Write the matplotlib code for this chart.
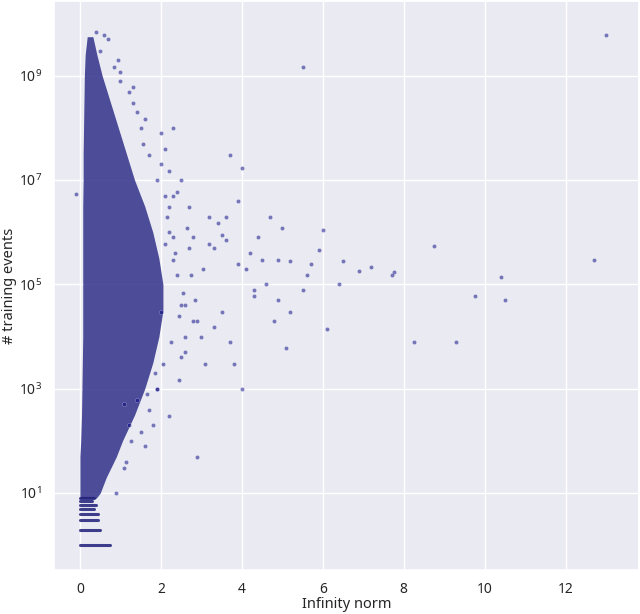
import matplotlib
matplotlib.use("Agg")
import matplotlib.pyplot as plt
import seaborn as sns

sns.set_theme(style="darkgrid")
plt.rcParams['font.family'] = ['Noto Sans', 'DejaVu Sans']

# Dense core envelope: log10(# events) vs. min / max infinity norm
core_logy = [0.9, 1.0, 1.3, 1.7, 2.0, 2.5, 3.0, 3.5, 4.0, 4.5, 5.0, 5.5, 6.0, 6.5, 7.0, 7.5, 8.0, 8.5, 9.0, 9.4, 9.75]
core_xmin = [0.0, 0.0, 0.0, 0.0, 0.02, 0.04, 0.05, 0.06, 0.07, 0.07, 0.07, 0.07, 0.07, 0.07, 0.08, 0.08, 0.09, 0.1, 0.11, 0.13, 0.18]
core_xmax = [0.4, 0.5, 0.65, 0.9, 1.05, 1.35, 1.6, 1.8, 1.95, 2.05, 2.05, 1.95, 1.8, 1.6, 1.35, 1.15, 0.95, 0.75, 0.55, 0.42, 0.32]

# Discrete low-count rows (count, max norm)
row_counts = [1, 2, 3, 4, 5, 6, 7, 8]
row_xmax = [0.75, 0.5, 0.45, 0.45, 0.35, 0.4, 0.3, 0.35]

# Scattered points
pts_x = [5.5, 13.0, 12.7, 10.4, 10.5, 9.75, 9.3, 8.25, 8.75, 7.75, 7.7, 7.2, 6.9, 6.5, 6.4, 6.0, 5.9, 5.7,
         6.1, 5.6, 5.5, 5.2, 5.0, 4.9, 4.5, 4.3, 4.0, 3.9, 3.7, 3.6, 3.5, 3.2, 4.0, 3.8, 3.1, 2.9, -0.1,
         5.2, 4.6, 4.2, 3.0, 2.5, 2.2, 2.0, 1.6, 1.3, 0.95, 0.7, 5.1, 4.8, 3.3, 3.4, 2.7, 2.8, 2.6, 3.05,
         2.4, 2.3, 2.1, 3.6, 3.9, 4.4, 4.7, 2.9, 2.6, 3.2, 2.45, 2.2, 1.6, 1.8, 1.1, 0.9, 0.5, 1.0, 1.3,
         1.5, 2.0, 2.3, 2.2, 2.7, 3.5, 4.1, 4.3, 4.9, 3.7, 3.3, 2.8, 2.5, 1.9, 0.4, 0.6, 1.1, 1.2,
         2.2, 2.3, 2.4, 2.5, 2.6, 2.15, 2.35, 2.55, 2.75, 2.1, 2.45, 2.65, 2.85, 2.25, 2.05, 1.9, 1.7,
         1.5, 1.4, 1.25, 1.15, 1.7, 1.55, 1.9, 2.1, 2.3, 2.0, 1.85, 1.65, 1.4, 1.2, 1.0, 0.85]
pts_y = [1.5e9, 6e9, 3e5, 1.4e5, 5e4, 6e4, 8e3, 8e3, 5.5e5, 1.7e5, 1.5e5, 2.2e5, 1.8e5, 2.8e5, 1e5, 1.1e6,
         4.5e5, 2.5e5, 1.4e4, 1.5e5, 8e4, 2.8e5, 1.2e6, 3e5, 3e5, 6e4, 1.7e7, 4e6, 3e7, 2e6, 9e5, 2e6, 1e3,
         3e3, 3e3, 50, 5.5e6, 3e4, 1e5, 4e5, 1e4, 1e7, 1.5e7, 2e7, 1.5e8, 3e8, 2e9, 5e9, 6e3, 2e4, 5e5,
         1.5e6, 3e6, 8e5, 4e4, 2e5, 6e6, 1e8, 4e7, 7e5, 2.5e5, 8e5, 2e6, 2e4, 5e3, 6e5, 1.5e3, 3e2, 8e1,
         2e2, 3e1, 10, 3e9, 1.2e9, 6e8, 1e8, 8e7, 5e6, 1e6, 5e5, 3e4, 2e5, 8e4, 5e4, 8e3, 1.5e4, 2e4,
         4e3, 1e3, 7e9, 6e9, 5e2, 2e2,
         3e6, 8e5, 1.5e5, 4e4, 1e4, 2e6, 4e5, 7e4, 1.5e5, 6e5, 2.5e4, 1.2e6, 5e4, 8e3, 3e3, 1e3, 4e2,
         1.5e2, 6e2, 1e2, 4e1, 3e7, 5e7, 1e7, 5e6, 3e5, 3e4, 2e3, 8e2, 2e8, 5e8, 8e8, 1.5e9]

fig, ax = plt.subplots(figsize=(6.4, 6.14), dpi=100)
ax.set_yscale('log')

core_y = [10 ** v for v in core_logy]
ax.fill_betweenx(core_y, core_xmin, core_xmax, color='#30308a', alpha=0.85, lw=0, zorder=2)
for c, xm in zip(row_counts, row_xmax):
    ax.plot([0.0, xm], [c, c], color='#1f1f7a', lw=2.2, alpha=0.85, zorder=2)

ax.scatter(pts_x, pts_y, s=9, color='navy', alpha=0.5, edgecolor='white', linewidth=0.3, zorder=3)

ax.set_xlim(-0.63, 13.8)
ax.set_ylim(10 ** -0.47, 10 ** 10.43)
ax.set_xticks([0, 2, 4, 6, 8, 10, 12])
ax.set_xlabel('Infinity norm', fontsize=10.5, labelpad=0)
ax.set_ylabel('# training events', fontsize=10.5, labelpad=1)
ax.tick_params(labelsize=10, pad=3)
fig.subplots_adjust(left=0.085, right=0.998, top=0.998, bottom=0.072)
fig.savefig('out.png')
